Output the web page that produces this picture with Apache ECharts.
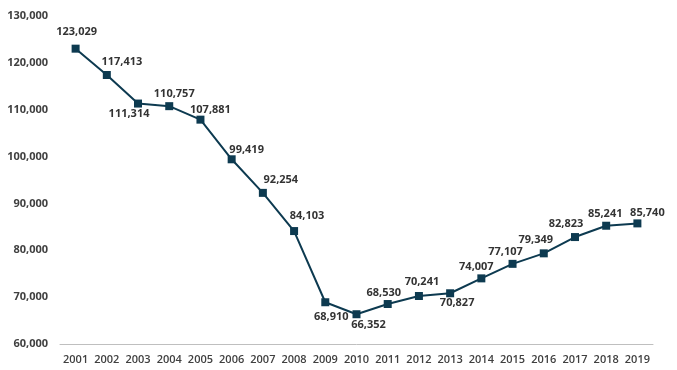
<!DOCTYPE html>
<html>
<head>
<meta charset="utf-8">
<script src="https://cdn.jsdelivr.net/npm/echarts@6/dist/echarts.min.js"></script>
<style>html,body{margin:0;padding:0;background:#fff}#c{width:677px;height:370px}</style>
</head>
<body>
<div id="c"></div>
<script>
var years = ['2001','2002','2003','2004','2005','2006','2007','2008','2009','2010','2011','2012','2013','2014','2015','2016','2017','2018','2019'];
var values = [123029,117413,111314,110757,107881,99419,92254,84103,68910,66352,68530,70241,70827,74007,77107,79349,82823,85241,85740];
var labelOffsets = [[1,-17],[15,-13],[-9,10],[5,-12],[10,-10],[15,-9],[18,-13],[13,-15],[6,15],[12,11],[-4,-11],[3,-14],[7,10],[-5,-12],[-7,-12],[-8,-13],[-9,-13],[-1,-12],[10,-11]];

var chart = echarts.init(document.getElementById('c'));
var fmt = function(v){ return v.toLocaleString('en-US'); };
chart.setOption({
  animation: false,
  grid: {left: 60, right: 24, top: 16, bottom: 26, containLabel: false},
  xAxis: {
    type: 'category', data: years, boundaryGap: true,
    axisLine: {lineStyle: {color: '#bfbfbf', width: 1}},
    axisTick: {show: false},
    axisLabel: {interval: 0, color: '#404040', fontFamily: 'Open Sans', fontSize: 11, fontWeight: 600, margin: 10}
  },
  yAxis: {
    type: 'value', min: 60000, max: 130000, interval: 10000,
    axisLine: {show: false}, axisTick: {show: false}, splitLine: {show: false},
    axisLabel: {color: '#404040', fontFamily: 'Open Sans', fontSize: 11, fontWeight: 'bold', margin: 12, formatter: fmt}
  },
  series: [{
    type: 'line',
    data: values.map(function(v, i){
      return {value: v, label: {offset: labelOffsets[i]}};
    }),
    symbol: 'rect', symbolSize: 8,
    lineStyle: {color: '#0d3a50', width: 2},
    itemStyle: {color: '#0d3a50'},
    label: {show: true, position: 'inside', color: '#333333', fontFamily: 'Open Sans', fontSize: 11, fontWeight: 'bold',
      formatter: function(p){ return fmt(p.value); }}
  }]
});
</script>
</body>
</html>
